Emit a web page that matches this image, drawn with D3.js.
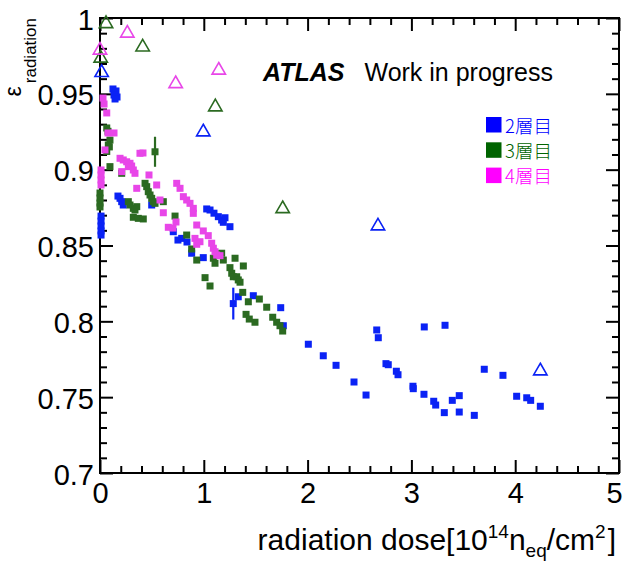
<!DOCTYPE html>
<html>
<head>
<meta charset="utf-8">
<script src="https://cdn.jsdelivr.net/npm/d3@7.9.0/dist/d3.min.js"></script>
<style>
  body { margin: 0; background: #fff; }
  svg { display: block; }
  text { font-family: "Liberation Sans", Arial, sans-serif; }
</style>
</head>
<body>
<svg width="626" height="563"></svg>
<script>
// layer 2 (blue) squares: [dose, efficiency]
const layer2 = [
  [0.125, 0.9532], [0.154, 0.9519], [0.135, 0.9492], [0.164, 0.9479], [0.145, 0.9466],
  [0.01, 0.8694], [0.01, 0.8661], [0.01, 0.8629], [0.01, 0.8596], [0.01, 0.8569],
  [0.173, 0.8826], [0.193, 0.8811], [0.209, 0.8789], [0.224, 0.8767], [0.498, 0.8767],
  [0.706, 0.8591], [0.751, 0.8536], [0.787, 0.8547], [0.838, 0.8523], [0.883, 0.8449], [0.995, 0.8420],
  [1.028, 0.8741], [1.060, 0.8734], [1.098, 0.8713], [1.140, 0.8690], [1.172, 0.8668],
  [1.204, 0.8683], [1.188, 0.8653], [1.252, 0.8624],
  [1.284, 0.8117], [1.332, 0.8162], [1.477, 0.8169], [1.741, 0.8090], [1.766, 0.7971],
  [2.007, 0.7849], [2.151, 0.7773], [2.274, 0.7710], [2.447, 0.7600], [2.563, 0.7514],
  [2.666, 0.7943], [2.681, 0.7892], [2.755, 0.7721], [2.777, 0.7714], [2.855, 0.7671],
  [2.871, 0.7648], [3.015, 0.7572], [3.018, 0.7556], [3.121, 0.7519], [3.124, 0.7963],
  [3.324, 0.7974], [3.215, 0.7473], [3.234, 0.7448], [3.317, 0.7398], [3.394, 0.7479],
  [3.461, 0.7510], [3.461, 0.7402], [3.606, 0.7380], [3.702, 0.7684], [3.882, 0.7644],
  [4.014, 0.7506], [4.111, 0.7496], [4.149, 0.7479], [4.242, 0.7440]
];
// layer 3 (green) squares
const layer3 = [
  [0.065, 0.9275], [0.077, 0.9253], [0.096, 0.9195], [0.090, 0.9150], [0.065, 0.9120], [0.080, 0.9163],
  [0.096, 0.9020], [0.209, 0.8976],
  [0.0, 0.8846], [0.0, 0.8813], [0.0, 0.8780], [0.0, 0.8754],
  [0.530, 0.9118],
  [0.434, 0.8910], [0.450, 0.8888], [0.465, 0.8855], [0.482, 0.8833], [0.498, 0.8811],
  [0.513, 0.8789], [0.530, 0.8778], [0.610, 0.8789],
  [0.273, 0.8789], [0.289, 0.8767], [0.321, 0.8745], [0.337, 0.8734], [0.354, 0.8756],
  [0.321, 0.8686], [0.369, 0.8679], [0.417, 0.8675],
  [0.723, 0.8694], [0.835, 0.8569], [0.883, 0.8477], [0.932, 0.8404],
  [1.092, 0.8416], [1.108, 0.8383], [1.188, 0.8404], [1.172, 0.8449], [1.301, 0.8416], [1.381, 0.8365],
  [1.252, 0.8354], [1.269, 0.8317], [1.284, 0.8294], [1.317, 0.8294], [1.332, 0.8273], [1.349, 0.8258],
  [1.012, 0.8288], [1.060, 0.8233], [1.375, 0.8191],
  [1.429, 0.8129], [1.535, 0.8147], [1.606, 0.8093],
  [1.407, 0.8046], [1.438, 0.8015], [1.493, 0.7994],
  [1.664, 0.8027], [1.702, 0.7994], [1.734, 0.7971], [1.760, 0.7936]
];
// layer 4 (magenta) squares
const layer4 = [
  [0.029, 0.9472], [0.039, 0.9433], [0.065, 0.9374], [0.077, 0.9242], [0.135, 0.9242], [0.048, 0.9130],
  [0.01, 0.8998], [0.01, 0.8965], [0.01, 0.8932], [0.01, 0.8899],
  [0.193, 0.9075], [0.224, 0.9064], [0.257, 0.9052], [0.289, 0.9042], [0.305, 0.9024],
  [0.321, 0.8998], [0.337, 0.8976], [0.273, 0.9020], [0.209, 0.8987],
  [0.385, 0.9108], [0.414, 0.9110], [0.354, 0.8877], [0.472, 0.8965], [0.546, 0.8899],
  [0.578, 0.8800], [0.610, 0.8716], [0.658, 0.8620], [0.703, 0.8615], [0.732, 0.8655],
  [0.739, 0.8910], [0.771, 0.8877], [0.803, 0.8822], [0.835, 0.8800], [0.867, 0.8778],
  [0.899, 0.8745], [0.899, 0.8712],
  [0.932, 0.8635], [0.995, 0.8596], [1.043, 0.8565],
  [0.915, 0.8547], [0.963, 0.8525], [0.932, 0.8508],
  [1.076, 0.8515], [1.092, 0.8482], [1.108, 0.8459], [1.124, 0.8437], [1.156, 0.8433]
];
// open triangles
const layer2Tri = [[0.016, 0.9646], [0.995, 0.9255], [2.678, 0.8635], [4.242, 0.7679]];
const layer3Tri = [[0.058, 0.9969], [0.411, 0.9815], [0.007, 0.9741], [1.111, 0.9420], [1.760, 0.8749]];
const layer4Tri = [[0.263, 0.9906], [0.0, 0.9794], [1.144, 0.9662], [0.729, 0.9573]];
// visible error bars: [dose, efficiency, error]
const layer2Err = [[1.284, 0.8117, 0.0105]];
const layer3Err = [[0.530, 0.9118, 0.0099]];

const legendLabels = ['2層目', '3層目', '4層目'];
const xTicks = [0, 1, 2, 3, 4, 5];
const xTickLabels = ['0', '1', '2', '3', '4', '5'];
const yTicks = [0.7, 0.75, 0.8, 0.85, 0.9, 0.95, 1.0];
const yTickLabels = ['0.7', '0.75', '0.8', '0.85', '0.9', '0.95', '1'];

const markColors = ['#0a22f5', '#2b6a21', '#e846e8'];
const legendColors = ['#0000ff', '#006400', '#ff00ff'];

const svg = d3.select('svg');
const padL = 100, padR = 619, padT = 18, padB = 473;

let x = d3.scaleLinear().domain([0, 5]).range([padL, padR]);
let y = d3.scaleLinear().domain([0.7, 1.0]).range([padB, padT]);

const xMinor = d3.range(0, 5.001, 0.2).filter(v => Math.abs(v - Math.round(v)) > 1e-6);
const yMinor = d3.range(0.7, 1.0001, 0.01).filter(v => Math.abs(v * 20 - Math.round(v * 20)) > 1e-6);

// axes, ticks pointing inward on all four sides
function axisGroup(axis, tx, ty) {
  let g = svg.append('g').attr('transform', `translate(${tx},${ty})`).call(axis);
  g.select('.domain').remove();
  g.selectAll('line').attr('stroke', '#000').attr('stroke-width', 2);
  return g;
}
let xg = axisGroup(d3.axisBottom(x).tickValues(xTicks).tickSizeInner(-13).tickSizeOuter(0)
  .tickPadding(9).tickFormat((d, i) => xTickLabels[i]), 0, padB);
axisGroup(d3.axisBottom(x).tickValues(xMinor).tickSizeInner(-7).tickSizeOuter(0).tickFormat(''), 0, padB);
axisGroup(d3.axisTop(x).tickValues(xTicks).tickSizeInner(-13).tickSizeOuter(0).tickFormat(''), 0, padT);
axisGroup(d3.axisTop(x).tickValues(xMinor).tickSizeInner(-7).tickSizeOuter(0).tickFormat(''), 0, padT);
let yg = axisGroup(d3.axisLeft(y).tickValues(yTicks).tickSizeInner(-13).tickSizeOuter(0)
  .tickPadding(6).tickFormat((d, i) => yTickLabels[i]), padL, 0);
axisGroup(d3.axisLeft(y).tickValues(yMinor).tickSizeInner(-7).tickSizeOuter(0).tickFormat(''), padL, 0);
axisGroup(d3.axisRight(y).tickValues(yTicks).tickSizeInner(-13).tickSizeOuter(0).tickFormat(''), padR, 0);
axisGroup(d3.axisRight(y).tickValues(yMinor).tickSizeInner(-7).tickSizeOuter(0).tickFormat(''), padR, 0);

svg.selectAll('.tick text')
  .attr('fill', '#000')
  .style('font-family', '"Liberation Sans", Arial, sans-serif')
  .style('font-size', '29px');
yg.selectAll('.tick text').attr('dy', '0.38em');
// last x label sits at the window edge, keep it inside
xg.selectAll('.tick text').filter((d, i) => i === xTicks.length - 1).attr('dx', -5);

// frame
svg.append('rect')
  .attr('x', padL).attr('y', padT)
  .attr('width', padR - padL).attr('height', padB - padT)
  .attr('fill', 'none').attr('stroke', '#000').attr('stroke-width', 2);

// error bars
const errs = [[layer2Err, markColors[0]], [layer3Err, markColors[1]]];
errs.forEach(([data, c]) => {
  svg.append('g').selectAll('line').data(data).join('line')
    .attr('x1', d => x(d[0])).attr('x2', d => x(d[0]))
    .attr('y1', d => y(d[1] - d[2])).attr('y2', d => y(d[1] + d[2]))
    .attr('stroke', c).attr('stroke-width', 2.2);
});

// squares
const sq = 7;
[layer2, layer3, layer4].forEach((data, idx) => {
  svg.append('g').selectAll('rect').data(data).join('rect')
    .attr('x', d => x(d[0]) - sq / 2).attr('y', d => y(d[1]) - sq / 2)
    .attr('width', sq).attr('height', sq)
    .attr('fill', markColors[idx]);
});

// open triangles
const tri = d3.symbol().type(d3.symbolTriangle).size(78);
[layer2Tri, layer3Tri, layer4Tri].forEach((data, idx) => {
  svg.append('g').selectAll('path').data(data).join('path')
    .attr('transform', d => `translate(${x(d[0])},${y(d[1]) + 1})`)
    .attr('d', tri)
    .attr('fill', 'none').attr('stroke', markColors[idx]).attr('stroke-width', 1.6);
});

// ATLAS label
let atlas = svg.append('text').attr('x', 263).attr('y', 81).style('font-size', '25px');
atlas.append('tspan').text('ATLAS').style('font-weight', 'bold').style('font-style', 'italic');
atlas.append('tspan').attr('dx', 20).text('Work in progress');

// legend
legendLabels.forEach((lab, idx) => {
  let ly = 117 + idx * 25.3;
  svg.append('rect').attr('x', 486).attr('y', ly).attr('width', 15.5).attr('height', 15.5)
    .attr('fill', legendColors[idx]);
  svg.append('text').attr('x', 505).attr('y', ly + 15.5)
    .attr('fill', legendColors[idx])
    .style('font-family', '"Noto Sans CJK JP", sans-serif')
    .style('font-size', '18.5px')
    .style('font-weight', 300)
    .text(lab);
});

// axis titles
let xt = svg.append('text').attr('x', 616).attr('y', 550)
  .attr('text-anchor', 'end').style('font-size', '30px');
xt.append('tspan').text('radiation dose[10');
xt.append('tspan').attr('dy', -12).style('font-size', '19px').text('14');
xt.append('tspan').attr('dy', 12).text('n');
xt.append('tspan').attr('dy', 7).style('font-size', '19px').text('eq');
xt.append('tspan').attr('dy', -7).text('/cm');
xt.append('tspan').attr('dy', -12).style('font-size', '19px').text('2');
xt.append('tspan').attr('dy', 12).attr('dx', 2).text(']');

let yt = svg.append('text').attr('transform', 'translate(21,18) rotate(-90)')
  .attr('text-anchor', 'end');
yt.append('tspan').style('font-size', '23px').text('ε');
yt.append('tspan').attr('dx', 3).attr('dy', 15).style('font-size', '17px').text('radiation');
</script>
</body>
</html>
